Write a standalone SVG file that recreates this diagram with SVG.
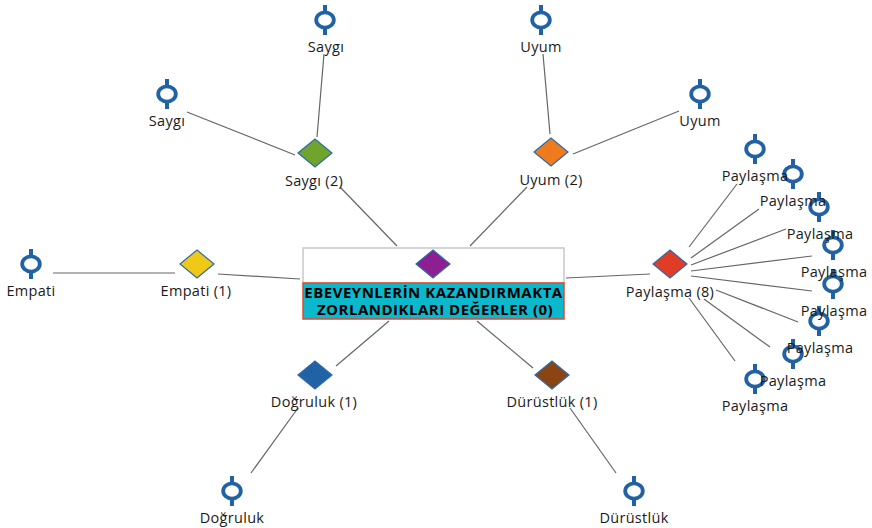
<svg xmlns="http://www.w3.org/2000/svg" width="872" height="528" viewBox="0 0 872 528">
<style>
text{font-family:"Open Sans","Noto Sans","DejaVu Sans",sans-serif;font-size:14.5px;letter-spacing:.3px;fill:#1a1a1a;text-anchor:middle}
.b{font-weight:700;font-size:15px;letter-spacing:.5px;fill:#000}
.c line{stroke:#666;stroke-width:1.2}
.d{stroke:#2e6aa8;stroke-width:1.2}
.r{fill:none;stroke:#2162a4;stroke-width:3.8}
.s{stroke:#2162a4;stroke-width:4}
</style>
<defs>
<g id="leaf"><line class="s" x1="0" y1="-15" x2="0" y2="-7"/><line class="s" x1="0" y1="7" x2="0" y2="15"/><ellipse class="r" cx="0" cy="0" rx="8.8" ry="7.6"/></g>
<polygon id="dia" points="-17,0 0,-14 17,0 0,14"/>
</defs>
<rect width="872" height="528" fill="#fff"/>
<g class="c">
<line x1="324" y1="54" x2="317" y2="137"/>
<line x1="187" y1="112" x2="295" y2="155"/>
<line x1="543" y1="54" x2="550" y2="134"/>
<line x1="679" y1="111" x2="573" y2="154"/>
<line x1="340" y1="187" x2="397" y2="246"/>
<line x1="527" y1="187" x2="470" y2="246"/>
<line x1="53" y1="273" x2="175" y2="273"/>
<line x1="218" y1="274" x2="300" y2="279"/>
<line x1="566" y1="278" x2="650" y2="274"/>
<line x1="389" y1="321" x2="336" y2="366"/>
<line x1="477" y1="321" x2="533" y2="368"/>
<line x1="298" y1="408" x2="251" y2="473"/>
<line x1="570" y1="408" x2="616" y2="473"/>
<line x1="737" y1="184" x2="689" y2="247"/>
<line x1="759" y1="209" x2="691" y2="258"/>
<line x1="786" y1="229" x2="691" y2="265"/>
<line x1="812" y1="256" x2="691" y2="271"/>
<line x1="812" y1="291" x2="691" y2="276"/>
<line x1="798" y1="322" x2="716" y2="290"/>
<line x1="770" y1="347" x2="704" y2="299"/>
<line x1="735" y1="361" x2="689" y2="298"/>
</g>
<g id="center">
<rect x="303" y="248" width="261" height="35" fill="#fff" stroke="#c8c8c8" stroke-width="1.5"/>
<rect x="303" y="283" width="261" height="36" fill="#0bb8cc" stroke="#e0492f" stroke-width="1.5"/>
<use href="#dia" x="433" y="264" fill="#8e1f91" class="d"/>
<text class="b"><tspan x="433.500" y="298">EBEVEYNLERİN KAZANDIRMAKTA</tspan><tspan x="435" y="315">ZORLANDIKLARI DEĞERLER (0)</tspan></text>
</g>
<g id="saygi2"><use href="#dia" x="315" y="153" fill="#70a42c" class="d"/><text x="314" y="186">Saygı (2)</text></g>
<g id="uyum2"><use href="#dia" x="551" y="152" fill="#ee7b1e" class="d"/><text x="551" y="185">Uyum (2)</text></g>
<g id="empati1"><use href="#dia" x="197" y="264" fill="#f0c818" class="d"/><text x="196" y="296">Empati (1)</text></g>
<g id="paylasma8"><use href="#dia" x="670" y="264" fill="#e03c26" class="d"/><text x="670" y="297">Paylaşma (8)</text></g>
<g id="dogruluk1"><use href="#dia" x="315" y="375" fill="#2162a4" class="d"/><text x="314" y="407">Doğruluk (1)</text></g>
<g id="durustluk1"><use href="#dia" x="552" y="375" fill="#8a4513" class="d"/><text x="552" y="407">Dürüstlük (1)</text></g>
<g id="l1"><use href="#leaf" x="325" y="20"/><text x="326" y="52">Saygı</text></g>
<g id="l2"><use href="#leaf" x="167" y="94"/><text x="167" y="126">Saygı</text></g>
<g id="l3"><use href="#leaf" x="541" y="20"/><text x="541" y="52">Uyum</text></g>
<g id="l4"><use href="#leaf" x="700" y="94"/><text x="700" y="126">Uyum</text></g>
<g id="l5"><use href="#leaf" x="31" y="264"/><text x="31" y="296">Empati</text></g>
<g id="l6"><use href="#leaf" x="232" y="491"/><text x="232" y="523">Doğruluk</text></g>
<g id="l7"><use href="#leaf" x="634" y="491"/><text x="634" y="523">Dürüstlük</text></g>
<g id="p8"><use href="#leaf" x="755" y="379"/><text x="755" y="411">Paylaşma</text></g>
<g id="p7"><use href="#leaf" x="793" y="354"/><text x="793" y="386">Paylaşma</text></g>
<g id="p6"><use href="#leaf" x="819" y="321"/><text x="820" y="353">Paylaşma</text></g>
<g id="p5"><use href="#leaf" x="833" y="284"/><text x="834" y="316">Paylaşma</text></g>
<g id="p4"><use href="#leaf" x="833" y="245"/><text x="834" y="277">Paylaşma</text></g>
<g id="p3"><use href="#leaf" x="819" y="207"/><text x="820" y="239">Paylaşma</text></g>
<g id="p2"><use href="#leaf" x="793" y="174"/><text x="793" y="206">Paylaşma</text></g>
<g id="p1"><use href="#leaf" x="755" y="149"/><text x="755" y="181">Paylaşma</text></g>
</svg>
